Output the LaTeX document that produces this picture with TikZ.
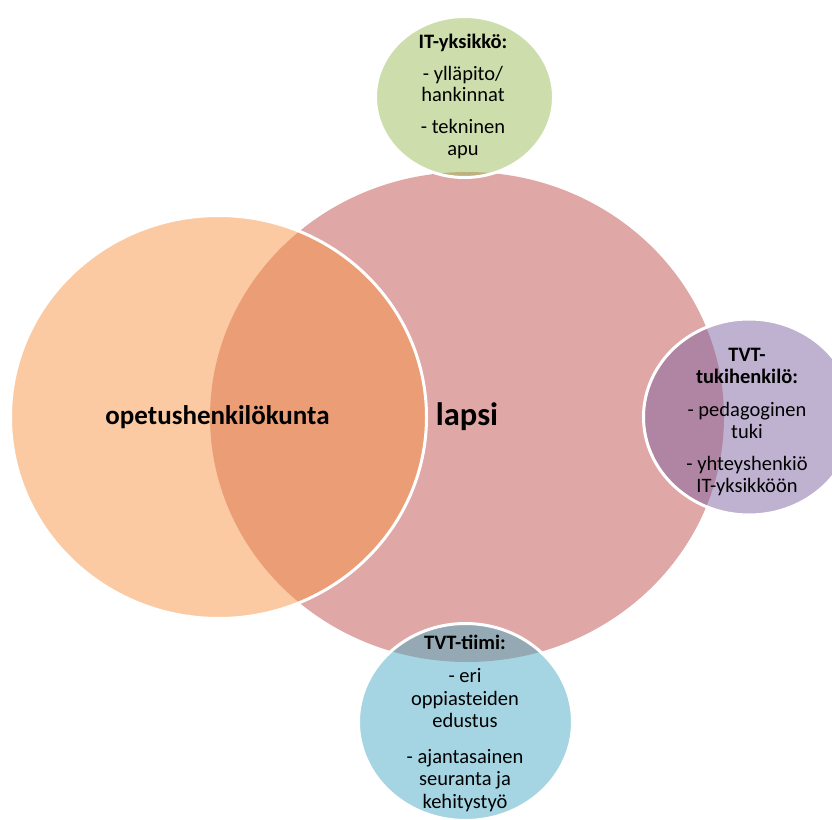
\documentclass[tikz,border=0pt]{standalone}
\usepackage{fontspec}
\setmainfont{Carlito}
\usepackage{tikz}
\usetikzlibrary{shapes.geometric}
\definecolor{accorange}{HTML}{F79646}
\definecolor{accred}{HTML}{C0504D}
\definecolor{accgreen}{HTML}{9BBB59}
\definecolor{accpurple}{HTML}{8064A2}
\definecolor{accblue}{HTML}{4BACC6}
\tikzset{pallo/.style={ellipse, draw=white, line width=3pt, fill opacity=.5, inner sep=0pt}}
\tikzset{l/.style={font=\bfseries\fontsize{32.5}{32.5}\selectfont, inner sep=0pt}}
\tikzset{m/.style={font=\bfseries\fontsize{27}{27}\selectfont, inner sep=0pt}}
\tikzset{s/.style={align=center, inner sep=0pt}}

\begin{document}
\begin{tikzpicture}[x=1pt,y=-1pt]
  \useasboundingbox (0,0) rectangle (832,819);
  % the big circles
  \node[pallo, draw=none, fill=accred, minimum width=514pt, minimum height=490pt] (lapsi) at (467,417) {};
  \node[pallo, fill=accorange, minimum width=416pt, minimum height=403pt] (opettajat) at (218.5,417) {};
  % the small circles round the child
  \node[pallo, fill=accgreen, minimum width=178pt, minimum height=161pt] (ityksikko) at (464.5,97) {};
  \node[pallo, fill=accpurple, minimum width=211pt, minimum height=196pt] (tukihlo) at (749,417) {};
  \node[pallo, fill=accblue, minimum width=214pt, minimum height=197pt] (tiimi) at (465.5,722) {};
  % texts
  \node[l] (lapsiteksti) at (lapsi) {lapsi};
  \node[m] (opettajateksti) at (217.5,417) {opetushenkilökunta};
  \node[s, font=\fontsize{20.5}{21.5}\selectfont] (itteksti) at (463,96)
    {\textbf{IT-yksikkö:}\\[10.5pt] - ylläpito/\\ hankinnat\\[10.5pt] - tekninen\\ apu};
  \node[s, font=\fontsize{20.5}{21.5}\selectfont] (tukiteksti) at (747,422)
    {\textbf{TVT-}\\ \textbf{tukihenkilö:}\\[12pt] - pedagoginen\\ tuki\\[11pt] - yhteyshenkiö\\ IT-yksikköön};
  \node[s, font=\fontsize{20.5}{22.5}\selectfont] (tiimiteksti) at (465,723)
    {\textbf{TVT-tiimi:}\\[11pt] - eri\\ oppiasteiden\\ edustus\\[13pt] - ajantasainen\\ seuranta ja\\ kehitystyö};
\end{tikzpicture}
\end{document}
